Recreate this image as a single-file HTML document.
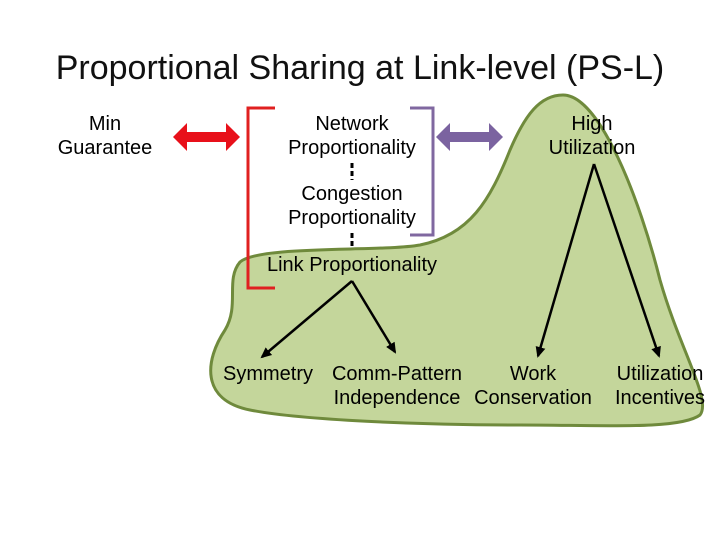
<!DOCTYPE html>
<html><head><style>
body{margin:0;width:720px;height:540px;background:#fff;overflow:hidden}
svg text{font-family:"Liberation Sans",Arial,sans-serif;font-size:20px;fill:#000}
</style></head><body>
<svg width="720" height="540" viewBox="0 0 720 540">
<defs>
<marker id="ah" markerWidth="12" markerHeight="12" refX="9" refY="6" orient="auto" markerUnits="userSpaceOnUse"><path d="M0,1 L11,6 L0,11 Z" fill="#000"/></marker>
</defs>
<text x="360" y="79" text-anchor="middle" style="font-size:34px;fill:#111">Proportional Sharing at Link-level (PS-L)</text>
<path d="M563,95 C600,95 640,200 660,280 C680,350 712,400 700,415 C680,430 600,425 520,425 C420,425 300,420 250,410 C200,400 205,360 225,330 C240,305 225,280 240,262 C260,245 380,252 420,245 C470,235 490,200 510,150 C525,115 540,95 563,95 Z" fill="#c4d69b" stroke="#6f8a3c" stroke-width="3"/>
<path d="M275,108 L248,108 L248,288 L275,288" fill="none" stroke="#e02020" stroke-width="3"/>
<path d="M410,108 L433,108 L433,235 L410,235" fill="none" stroke="#8068a0" stroke-width="3"/>
<path d="M173,137 L187,123 L187,132 L226,132 L226,123 L240,137 L226,151 L226,142 L187,142 L187,151 Z" fill="#e8101a"/>
<path d="M436,137 L450,123 L450,132 L489,132 L489,123 L503,137 L489,151 L489,142 L450,142 L450,151 Z" fill="#7b63a0"/>
<line x1="352" y1="163" x2="352" y2="180" stroke="#000" stroke-width="3" stroke-dasharray="5,3"/>
<line x1="352" y1="233" x2="352" y2="248" stroke="#000" stroke-width="3" stroke-dasharray="5,3"/>
<g stroke="#000" stroke-width="2.5" fill="none" marker-end="url(#ah)">
<line x1="352" y1="281" x2="262" y2="357"/>
<line x1="352" y1="281" x2="395" y2="352"/>
<line x1="594" y1="164" x2="538" y2="356"/>
<line x1="594" y1="164" x2="659" y2="356"/>
</g>
<g text-anchor="middle">
<text x="105" y="130">Min</text><text x="105" y="154">Guarantee</text>
<text x="352" y="130">Network</text><text x="352" y="154">Proportionality</text>
<text x="352" y="200">Congestion</text><text x="352" y="224">Proportionality</text>
<text x="352" y="271">Link Proportionality</text>
<text x="592" y="130">High</text><text x="592" y="154">Utilization</text>
<text x="268" y="380">Symmetry</text>
<text x="397" y="380">Comm-Pattern</text><text x="397" y="404">Independence</text>
<text x="533" y="380">Work</text><text x="533" y="404">Conservation</text>
<text x="660" y="380">Utilization</text><text x="660" y="404">Incentives</text>
</g>
</svg>
</body></html>
